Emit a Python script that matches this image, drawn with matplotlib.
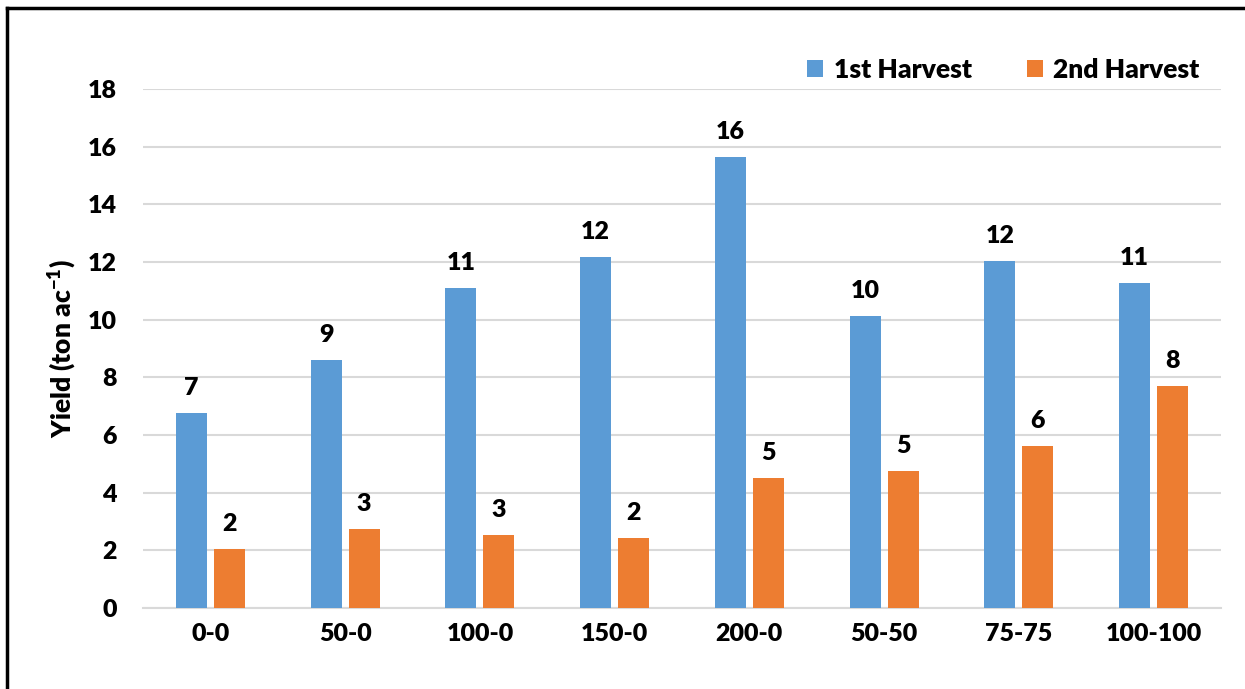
import matplotlib.pyplot as plt
import numpy as np
from matplotlib.lines import Line2D

plt.rcParams['font.family'] = ['Lato', 'DejaVu Sans']
plt.rcParams['font.weight'] = 'heavy'
plt.rcParams['mathtext.default'] = 'regular'

treatments = ["0-0", "50-0", "100-0", "150-0", "200-0", "50-50", "75-75", "100-100"]
harvest_1 = [6.76, 8.60, 11.10, 12.17, 15.64, 10.13, 12.04, 11.27]
harvest_2 = [2.05, 2.74, 2.53, 2.43, 4.51, 4.75, 5.62, 7.70]

blue = "#5b9bd5"
orange = "#ed7d31"
grid_gray = "#d9d9d9"

fig = plt.figure(figsize=(12.45, 6.89), dpi=100)
ax = fig.add_axes([143 / 1245, 1 - 608 / 689, (1221 - 143) / 1245, (608 - 89) / 689])

x = np.arange(len(treatments))
w = 0.23
off = 0.141
b1 = ax.bar(x - off, harvest_1, w, color=blue, label="1st Harvest", zorder=3)
b2 = ax.bar(x + off, harvest_2, w, color=orange, label="2nd Harvest", zorder=3)

for bars in (b1, b2):
    for rect in bars:
        h = rect.get_height()
        ax.annotate(f"{h:.0f}", (rect.get_x() + rect.get_width() / 2, h),
                    xytext=(0, 10), textcoords="offset points",
                    ha="center", va="bottom", fontsize=18, fontweight="heavy")

ax.set_xlim(-0.5, len(treatments) - 0.5)
ax.set_ylim(0, 18)
ax.set_yticks(range(0, 19, 2))
ax.set_xticks(x)
ax.set_xticklabels(treatments)
ax.tick_params(axis="both", length=0, labelsize=18)
ax.tick_params(axis="y", pad=19)
ax.tick_params(axis="x", pad=11)
ax.yaxis.grid(True, color=grid_gray, linewidth=1.5, zorder=0)
for s in ("top", "right", "left"):
    ax.spines[s].set_visible(False)
ax.spines["bottom"].set_color(grid_gray)
ax.spines["bottom"].set_linewidth(1.5)

ax.set_ylabel("Yield (ton ac$^{-1}$)", fontsize=19, fontweight="heavy", labelpad=6)

ax.legend(loc="lower right", bbox_to_anchor=(0.99, 0.994), ncol=2, frameon=False,
          fontsize=19, handlelength=0.6, handleheight=0.6, handletextpad=0.4,
          columnspacing=2.1, borderaxespad=0.0)

# frame around the whole chart (top and left edges)
fig.add_artist(Line2D([7 / 1245, 7 / 1245], [0, 1 - 8 / 689], color="black", lw=2.5,
                      transform=fig.transFigure))
fig.add_artist(Line2D([7 / 1245, 1], [1 - 8 / 689, 1 - 8 / 689], color="black", lw=2.5,
                      transform=fig.transFigure))

fig.savefig("out.png", dpi=100)
